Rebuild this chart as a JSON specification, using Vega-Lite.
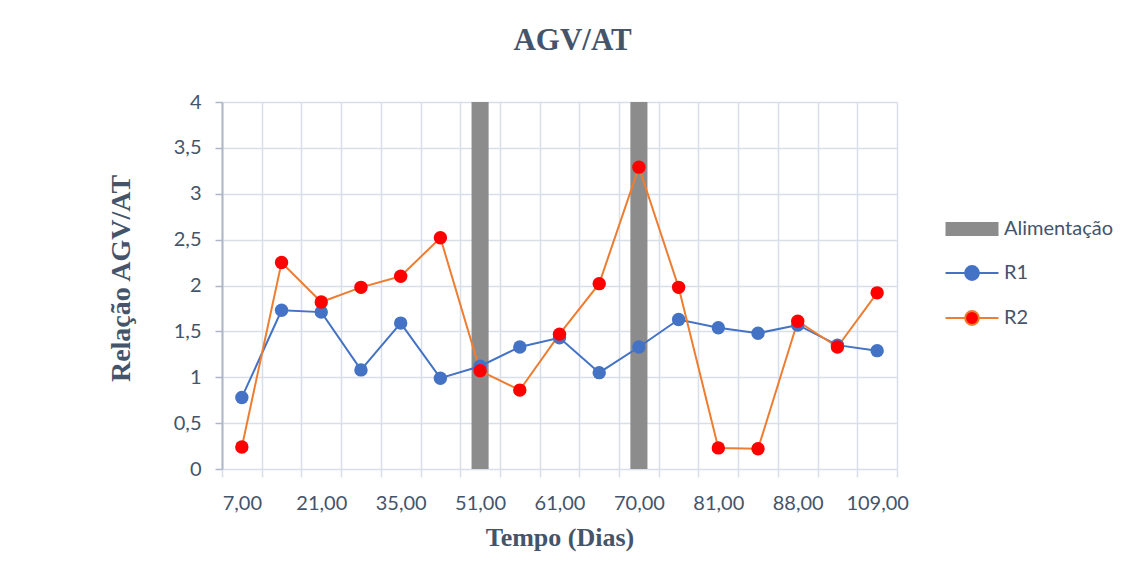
{
  "$schema": "https://vega.github.io/schema/vega-lite/v6.json",
  "width": 675,
  "height": 367,
  "autosize": "none",
  "padding": {"left": 222, "top": 102, "right": 243, "bottom": 99},
  "background": "white",
  "title": {
    "text": "AGV/AT",
    "font": "Liberation Serif",
    "fontSize": 31,
    "fontWeight": "bold",
    "color": "#44546A",
    "anchor": "middle",
    "frame": "group",
    "baseline": "alphabetic",
    "offset": 11,
    "dx": 13
  },
  "config": {
    "view": {"stroke": null},
    "axis": {
      "labelFont": "Lato",
      "labelFontSize": 20,
      "labelColor": "#44546A",
      "titleFont": "Liberation Serif",
      "titleFontWeight": "bold",
      "titleColor": "#44546A",
      "gridColor": "#D9DFE9",
      "gridWidth": 1.5
    }
  },
  "data": {
    "values": [
      {"dia": "7,00", "serie": "R1", "valor": 0.78},
      {"dia": "14,00", "serie": "R1", "valor": 1.73},
      {"dia": "21,00", "serie": "R1", "valor": 1.71},
      {"dia": "28,00", "serie": "R1", "valor": 1.08},
      {"dia": "35,00", "serie": "R1", "valor": 1.59},
      {"dia": "42,00", "serie": "R1", "valor": 0.99},
      {"dia": "51,00", "serie": "R1", "valor": 1.12},
      {"dia": "56,00", "serie": "R1", "valor": 1.33},
      {"dia": "61,00", "serie": "R1", "valor": 1.43},
      {"dia": "65,00", "serie": "R1", "valor": 1.05},
      {"dia": "70,00", "serie": "R1", "valor": 1.33},
      {"dia": "77,00", "serie": "R1", "valor": 1.63},
      {"dia": "81,00", "serie": "R1", "valor": 1.54},
      {"dia": "84,00", "serie": "R1", "valor": 1.48},
      {"dia": "88,00", "serie": "R1", "valor": 1.57},
      {"dia": "95,00", "serie": "R1", "valor": 1.35},
      {"dia": "109,00", "serie": "R1", "valor": 1.29},
      {"dia": "7,00", "serie": "R2", "valor": 0.24},
      {"dia": "14,00", "serie": "R2", "valor": 2.25},
      {"dia": "21,00", "serie": "R2", "valor": 1.82},
      {"dia": "28,00", "serie": "R2", "valor": 1.98},
      {"dia": "35,00", "serie": "R2", "valor": 2.1},
      {"dia": "42,00", "serie": "R2", "valor": 2.52},
      {"dia": "51,00", "serie": "R2", "valor": 1.07},
      {"dia": "56,00", "serie": "R2", "valor": 0.86},
      {"dia": "61,00", "serie": "R2", "valor": 1.47},
      {"dia": "65,00", "serie": "R2", "valor": 2.02},
      {"dia": "70,00", "serie": "R2", "valor": 3.29},
      {"dia": "77,00", "serie": "R2", "valor": 1.98},
      {"dia": "81,00", "serie": "R2", "valor": 0.23},
      {"dia": "84,00", "serie": "R2", "valor": 0.22},
      {"dia": "88,00", "serie": "R2", "valor": 1.61},
      {"dia": "95,00", "serie": "R2", "valor": 1.33},
      {"dia": "109,00", "serie": "R2", "valor": 1.92},
      {"dia": "51,00", "serie": "Alimentação", "valor": 4},
      {"dia": "70,00", "serie": "Alimentação", "valor": 4}
    ]
  },
  "encoding": {
    "x": {
      "field": "dia",
      "type": "ordinal",
      "scale": {
        "domain": ["7,00","14,00","21,00","28,00","35,00","42,00","51,00","56,00","61,00","65,00","70,00","77,00","81,00","84,00","88,00","95,00","109,00"],
        "paddingInner": 0,
        "paddingOuter": 0
      },
      "axis": {
        "title": "Tempo (Dias)",
        "titleFontSize": 26,
        "titleBaseline": "alphabetic",
        "titlePadding": 32,
        "labelAngle": 0,
        "labelPadding": 16,
        "labelExpr": "indexof(['7,00','21,00','35,00','51,00','61,00','70,00','81,00','88,00','109,00'], datum.value) >= 0 ? datum.label : ''",
        "tickBand": "extent",
        "grid": true,
        "domain": false,
        "ticks": true,
        "tickSize": 8,
        "tickColor": "#D9DFE9",
        "tickWidth": 1.5
      }
    },
    "y": {
      "field": "valor",
      "type": "quantitative",
      "scale": {"domain": [0, 4]},
      "axis": {
        "title": "Relação AGV/AT",
        "titleFontSize": 28,
        "titleBaseline": "alphabetic",
        "titlePadding": 44,
        "titleY": 176,
        "values": [0, 0.5, 1, 1.5, 2, 2.5, 3, 3.5, 4],
        "labelExpr": "replace(format(datum.value, '.1~f'), '.', ',')",
        "labelPadding": 14,
        "grid": true,
        "domain": true,
        "domainColor": "#ADB7C9",
        "domainWidth": 2,
        "tickColor": "#ADB7C9",
        "tickSize": 7,
        "tickWidth": 1.5
      }
    }
  },
  "layer": [
    {
      "transform": [{"filter": "datum.serie === 'Alimentação'"}],
      "mark": {"type": "bar", "width": {"band": 0.43}, "color": "#8C8C8C"},
      "encoding": {
        "color": {
          "field": "serie",
          "type": "nominal",
          "scale": {"domain": ["Alimentação", "R1", "R2"], "range": ["#8C8C8C", "#4472C4", "#FF0000"]},
          "legend": {
            "title": null,
            "orient": "none",
            "legendX": 740,
            "legendY": 117,
            "symbolSize": 2809,
            "labelFont": "Lato",
            "labelFontSize": 20,
            "labelColor": "#44546A",
            "labelOffset": 22,
            "rowPadding": 23,
            "encode": {
              "symbols": {
                "update": {
                  "shape": {"signal": "datum.value === 'Alimentação' ? 'M-1,-0.26H1V0.26H-1Z' : 'M-1,0H-0.27M0.27,0H1M0.26,0A0.26,0.26 0 1,1 -0.26,0A0.26,0.26 0 1,1 0.26,0Z'"},
                  "fill": {"signal": "datum.value === 'Alimentação' ? '#8C8C8C' : (datum.value === 'R1' ? '#4472C4' : '#FF0000')"},
                  "stroke": {"signal": "datum.value === 'Alimentação' ? null : (datum.value === 'R1' ? '#4472C4' : '#ED7D31')"},
                  "strokeWidth": {"signal": "datum.value === 'Alimentação' ? 0 : 2"},
                  "opacity": {"value": 1}
                }
              }
            }
          }
        }
      }
    },
    {
      "transform": [{"filter": "datum.serie !== 'Alimentação'"}],
      "mark": {"type": "line", "strokeWidth": 2},
      "encoding": {
        "stroke": {
          "field": "serie",
          "type": "nominal",
          "scale": {"domain": ["R1", "R2"], "range": ["#4472C4", "#ED7D31"]},
          "legend": null
        }
      }
    },
    {
      "transform": [{"filter": "datum.serie !== 'Alimentação'"}],
      "mark": {"type": "point", "filled": true, "size": 180, "opacity": 1},
      "encoding": {
        "fill": {
          "field": "serie",
          "type": "nominal",
          "scale": {"domain": ["R1", "R2"], "range": ["#4472C4", "#FF0000"]},
          "legend": null
        }
      }
    }
  ]
}
